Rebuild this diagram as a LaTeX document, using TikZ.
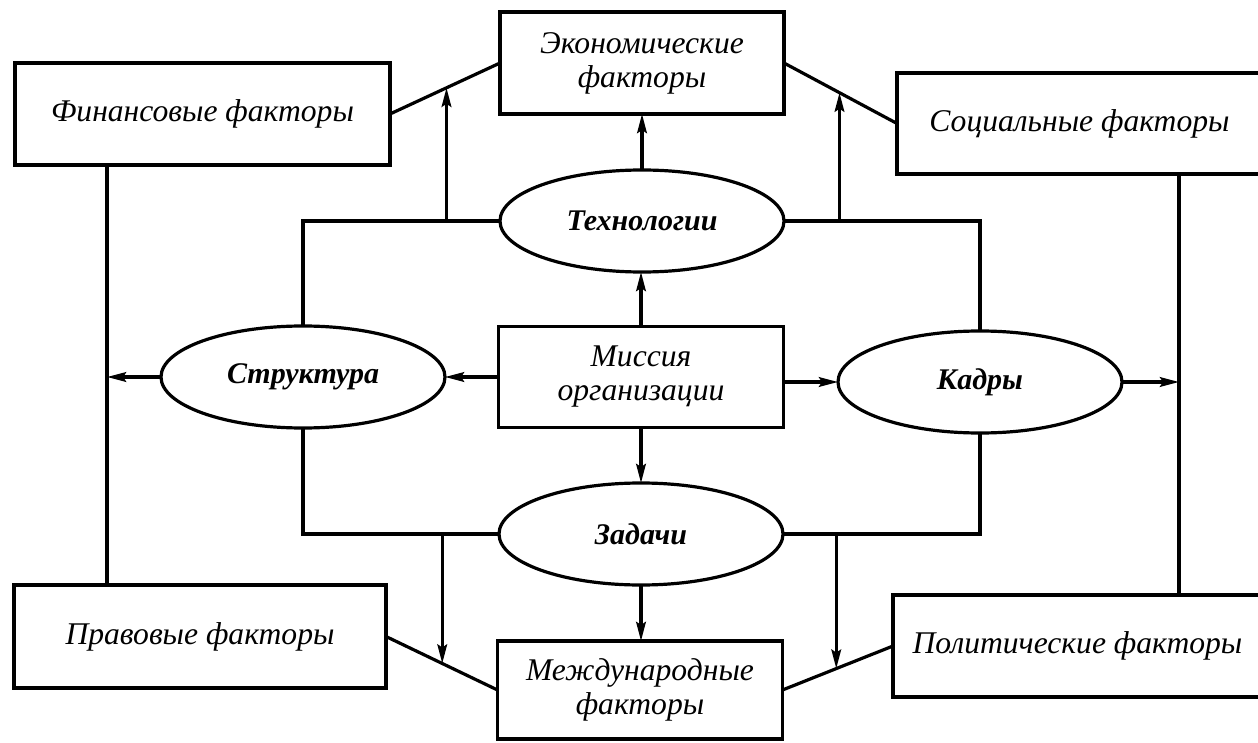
\documentclass[tikz,border=0pt]{standalone}
\usepackage{fontspec}
\setmainfont{Liberation Serif}
\usetikzlibrary{arrows.meta,shapes.geometric,calc}
\begin{document}
\begin{tikzpicture}[x=0.5pt,y=-0.5pt,
  line width=1.6pt,
  every node/.style={inner sep=0pt,outer sep=0pt},
  fbox/.style={draw,rectangle,align=center,font=\fontsize{15.8}{17}\selectfont\itshape},
  oval/.style={draw,ellipse,minimum width=142pt,minimum height=51pt,font=\fontsize{15}{17}\selectfont\bfseries\itshape},
  arr/.style={-{Stealth[length=9.5pt,width=4.8pt,inset=1.5pt]}}]
\useasboundingbox (0,0) rectangle (1258,743);
\fill[white] (0,0) rectangle (1258,743);
% boxes
\node[fbox,minimum width=187.5pt,minimum height=51pt] (fin) at (202.5,114) {Финансовые факторы};
\node[fbox,minimum width=142pt,minimum height=51pt] (ek) at (642,63) {Экономические\\факторы};
\node[fbox,minimum width=182.5pt,minimum height=50.5pt] (soc) at (1079.5,123.5) {Социальные факторы};
\node[fbox,minimum width=142.5pt,minimum height=50.5pt] (mis) at (641,377) {Миссия\\организации};
\node[fbox,minimum width=186pt,minimum height=51.5pt] (prav) at (200,636.5) {Правовые факторы};
\node[fbox,minimum width=142.5pt,minimum height=49pt] (mezh) at (640,690) {Международные\\факторы};
\node[fbox,minimum width=184.5pt,minimum height=51pt] (pol) at (1077.5,646) {Политические факторы};
% ellipses
\node[oval] (tech) at (642,221) {Технологии};
\node[oval] (str) at (303,377) {Структура};
\node[oval] (kad) at (980,382) {Кадры};
\node[oval] (zad) at (641,534) {Задачи};
% side lines
\coordinate (lx) at (107,377);
\coordinate (rx) at (1179,382);
\draw (fin.south -| lx) -- (prav.north -| lx);
\draw (soc.south -| rx) -- (pol.north -| rx);
% slanted connectors
\draw (fin.east) -- (ek.west);
\draw (ek.east) -- (soc.west);
\draw (prav.east) -- (mezh.west);
\draw (pol.west) -- (mezh.east);
% frame
\draw (tech.west) -| (str.north);
\draw (tech.east) -| (kad.north);
\draw (str.south) |- (zad.west);
\draw (kad.south) |- (zad.east);
% points on slanted connectors
\coordinate (p1) at ($(fin.east)!0.5135!(ek.west)$);
\coordinate (p2) at ($(ek.east)!0.491!(soc.west)$);
\coordinate (p3) at ($(prav.east)!0.5045!(mezh.west)$);
\coordinate (p4) at ($(pol.west)!0.5135!(mezh.east)$);
\draw[arr] (p1 |- tech.west) -- (p1);
\draw[arr] (p2 |- tech.east) -- (p2);
\draw[arr] (p3 |- zad.west) -- (p3);
\draw[arr] (p4 |- zad.east) -- (p4);
% central arrows
\draw[arr] (tech.north) -- (ek.south);
\draw[arr] (mis.north) -- (mis.north |- tech.south);
\draw[arr] (mis.west) -- (str.east);
\draw[arr] (mis.east |- kad.west) -- (kad.west);
\draw[arr] (mis.south) -- (zad.north);
\draw[arr] (zad.south) -- (zad.south |- mezh.north);
\draw[arr] (str.west) -- (lx);
\draw[arr] (kad.east) -- (rx);
\end{tikzpicture}
\end{document}
